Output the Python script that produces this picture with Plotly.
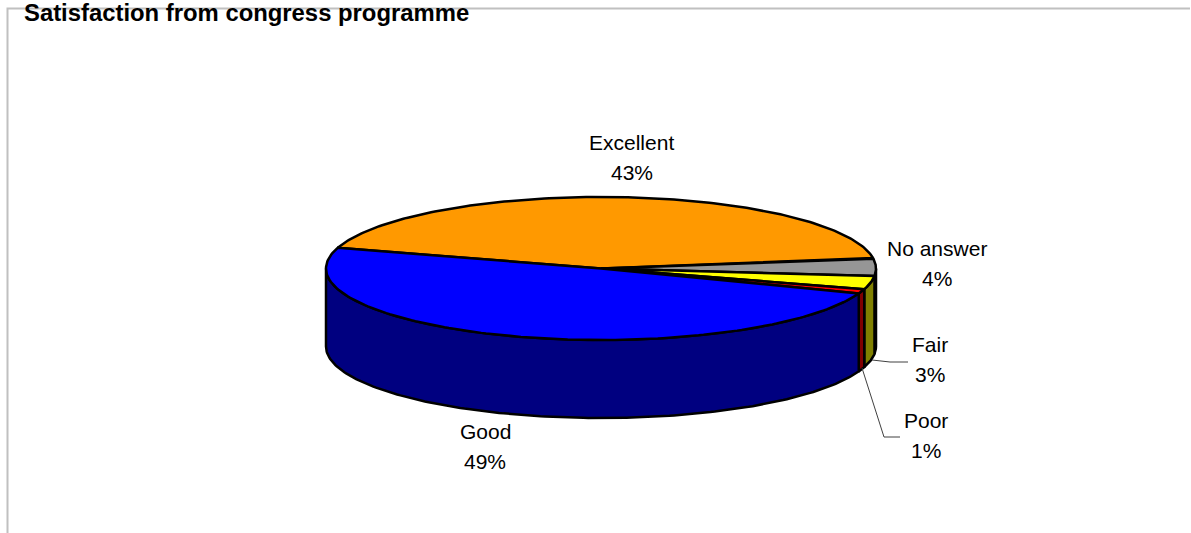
import numpy as np
import plotly.graph_objects as go

title = "Satisfaction from congress programme"
categories = ["Excellent", "No answer", "Fair", "Poor", "Good"]
values = [43, 4, 3, 1, 49]
top_colors = ["#FF9900", "#969696", "#FFFF00", "#FF0000", "#0000FF"]
side_colors = ["#804D00", "#4B4B4B", "#808000", "#800000", "#000080"]

# Pie geometry in picture pixels (axes below are mapped 1:1 to pixels)
CX, CY, RX, RY, DEPTH = 601, 268.5, 275, 71.5, 78
START_ANGLE = 163.2  # degrees, slices run clockwise

label_pos = {
    "Excellent": (631.5, 142.3, 172),
    "No answer": (936.5, 248.3, 278.3),
    "Fair": (930, 344, 374.3),
    "Poor": (926, 420, 450),
    "Good": (485, 431.3, 461.3),
}


def rim(a0, a1, n=160):
    t = np.radians(np.linspace(a0, a1, n))
    return CX + RX * np.cos(t), CY - RY * np.sin(t)


fig = go.Figure()
total = sum(values)
edges = START_ANGLE - np.cumsum([0] + values) * 360 / total

# Side walls: only the front half of the rim (angles -180..0) is visible
for i, name in enumerate(categories):
    a0 = min(edges[i], 0)
    a1 = max(edges[i + 1], -180)
    if a0 <= a1:
        continue
    x, y = rim(a0, a1)
    fig.add_trace(go.Scatter(
        x=np.r_[x, x[::-1], x[0]], y=np.r_[y, y[::-1] + DEPTH, y[0]],
        mode="lines", fill="toself", fillcolor=side_colors[i],
        line=dict(color="black", width=2.5), hoverinfo="skip", showlegend=False))

# Top faces
for i, name in enumerate(categories):
    x, y = rim(edges[i], edges[i + 1])
    fig.add_trace(go.Scatter(
        x=np.r_[CX, x, CX], y=np.r_[CY, y, CY],
        mode="lines", fill="toself", fillcolor=top_colors[i],
        line=dict(color="black", width=2.5), name=name,
        text=f"{name}: {values[i]}%", hoverinfo="text", showlegend=False))

annotations = [dict(text=f"<b>{title}</b>", x=21.5, y=12.5, xref="x", yref="y",
                    showarrow=False, xanchor="left", yanchor="middle",
                    font=dict(size=23.85, color="black", family="Liberation Sans"))]
for name, v in zip(categories, values):
    lx, y1, y2 = label_pos[name]
    for yy, txt in ((y1, name), (y2, f"{v}%")):
        annotations.append(dict(text=txt, x=lx, y=yy, xref="x", yref="y",
                                showarrow=False, xanchor="center", yanchor="middle",
                                font=dict(size=21, color="black", family="Liberation Sans")))

shapes = [
    dict(type="path", path="M 7.5 533 L 7.5 8.5 L 1190 8.5", xref="x", yref="y",
         line=dict(color="#C0C0C0", width=2), layer="below"),
    dict(type="path", path="M 872 360 L 890 362 L 908 362", xref="x", yref="y",
         line=dict(color="#404040", width=1)),
    dict(type="path", path="M 862 368 L 884 437 L 900 437", xref="x", yref="y",
         line=dict(color="#404040", width=1)),
]

fig.update_layout(
    width=1191, height=533, margin=dict(l=0, r=0, t=0, b=0),
    paper_bgcolor="white", plot_bgcolor="white",
    xaxis=dict(range=[0, 1191], visible=False, fixedrange=True),
    yaxis=dict(range=[533, 0], visible=False, fixedrange=True),
    annotations=annotations, shapes=shapes, showlegend=False,
)
fig.write_html("out.html", config=dict(displayModeBar=False),
               post_script="document.body.style.margin='0';document.body.style.overflow='hidden';")
